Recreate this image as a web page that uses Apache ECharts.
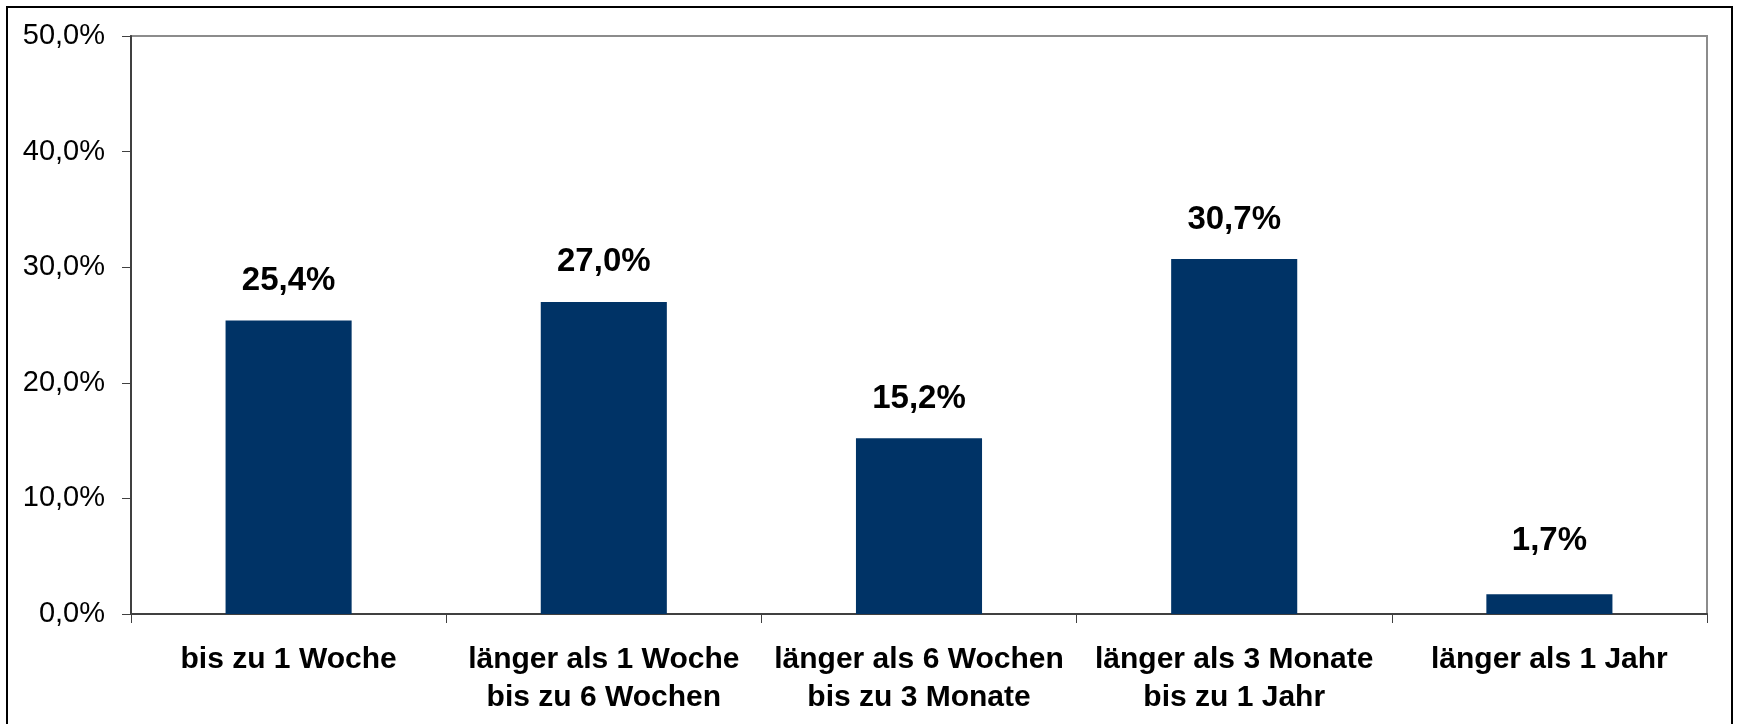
<!DOCTYPE html>
<html>
<head>
<meta charset="utf-8">
<script src="https://cdn.jsdelivr.net/npm/echarts@6/dist/echarts.min.js"></script>
<style>
  html, body { margin: 0; padding: 0; background: #fff; }
  #main { width: 1738px; height: 724px; }
</style>
</head>
<body>
<div id="main"></div>
<script>
// Kategorien (Dauer) und Anteile in %
const categories = [
  'bis zu 1 Woche',
  'länger als 1 Woche\nbis zu 6 Wochen',
  'länger als 6 Wochen\nbis zu 3 Monate',
  'länger als 3 Monate\nbis zu 1 Jahr',
  'länger als 1 Jahr'
]
const shares = [25.4, 27.0, 15.2, 30.7, 1.7]
const yTicks = [0, 10, 20, 30, 40, 50]

const fmtPct = v => v.toFixed(1).replace('.', ',') + '%'
const font = 'Liberation Sans, Arial, sans-serif'

const chart = echarts.init(document.getElementById('main'))
// sehr kleine Balken: Beschriftung sitzt im Original etwas höher
const barData = shares.map(v => v < 5 ? { value: v, label: { distance: 37 } } : v)

const option = {
  backgroundColor: '#fff',
  animation: false,
  graphic: [{
    // äußerer Rahmen
    type: 'rect',
    shape: { x: 7, y: 7, width: 1725, height: 730 },
    style: { fill: 'none', stroke: '#000', lineWidth: 2 },
    silent: true
  }],
  grid: {
    left: 131, top: 36, right: 31, bottom: 110,
    show: true,
    borderColor: '#8c8c8c',
    borderWidth: 2
  },
  xAxis: {
    type: 'category',
    data: categories,
    axisLine: { lineStyle: { color: '#404040', width: 2 } },
    axisTick: { show: true, length: 9, lineStyle: { color: '#404040', width: 1 } },
    axisLabel: {
      interval: 0,
      margin: 27,
      color: '#000',
      fontFamily: font,
      fontWeight: 'bold',
      fontSize: 30,
      lineHeight: 38
    }
  },
  yAxis: {
    type: 'value',
    min: yTicks[0],
    max: yTicks[yTicks.length - 1],
    interval: 10,
    splitLine: { show: false },
    axisLine: { show: true, lineStyle: { color: '#404040', width: 2 } },
    axisTick: { show: true, length: 9, lineStyle: { color: '#404040', width: 1 } },
    axisLabel: {
      margin: 26,
      color: '#000',
      fontFamily: font,
      fontSize: 29,
      formatter: v => fmtPct(v)
    }
  },
  series: [{
    type: 'bar',
    data: barData,
    barWidth: '40%',
    itemStyle: { color: '#003366' },
    label: {
      show: true,
      position: 'top',
      distance: 23,
      color: '#000',
      fontFamily: font,
      fontWeight: 'bold',
      fontSize: 33,
      formatter: p => fmtPct(p.value)
    }
  }]
}
chart.setOption(option)
</script>
</body>
</html>
